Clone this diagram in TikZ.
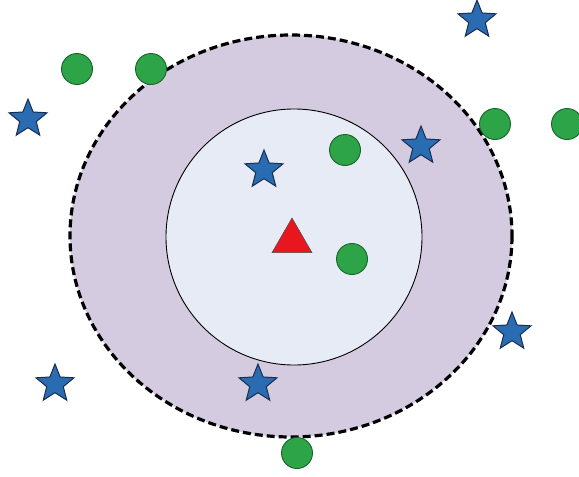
\documentclass[tikz,border=0pt]{standalone}
\usepackage{xcolor}
\usepackage{tikz}
\usetikzlibrary{shapes.geometric}

\definecolor{ringfill}{RGB}{213,203,225}
\definecolor{corefill}{RGB}{230,235,245}
\definecolor{dotgreen}{RGB}{46,164,72}
\definecolor{dotedge}{RGB}{22,100,40}
\definecolor{starblue}{RGB}{42,108,178}
\definecolor{staredge}{RGB}{25,45,80}
\definecolor{tipred}{RGB}{232,22,30}

\begin{document}
\begin{tikzpicture}[
            x=1pt, y=-1pt,
            dot/.style={circle, draw=dotedge, fill=dotgreen, line width=0.9pt, minimum size=31pt, inner sep=0pt},
            bluestar/.style={star, star points=5, star point ratio=2.3, draw=staredge, fill=starblue, line width=1pt, minimum size=40pt, inner sep=0pt},
            query/.style={regular polygon, regular polygon sides=3, draw=black!70, fill=tipred, line width=0.5pt, minimum size=46pt, inner sep=0pt}
        ]
            \useasboundingbox (0,0) rectangle (579,477);
            % outer region and inner circle
            \fill[ringfill] (291,236) ellipse [x radius=221, y radius=201];
            \draw[fill=corefill, draw=black, line width=0.9pt] (294,237) circle [radius=128];
            \draw[line width=3.2pt, dash pattern=on 8pt off 4pt] (291,236) ellipse [x radius=221, y radius=201];
            % green points
            \foreach \px/\py [count=\i] in {77/69, 151/69, 495/124, 567/124, 345/150, 352/259, 297/453}
                \node[dot] (g\i) at (\px,\py) {};
            % blue stars
            \foreach \px/\py [count=\i] in {477/20, 28/119, 264/170, 421/146, 512/332, 55/384, 258/384}
                \node[bluestar] (s\i) at (\px,\py) {};
            % query point
            \node[query] (q) at (292,241) {};
        \end{tikzpicture}
\end{document}
